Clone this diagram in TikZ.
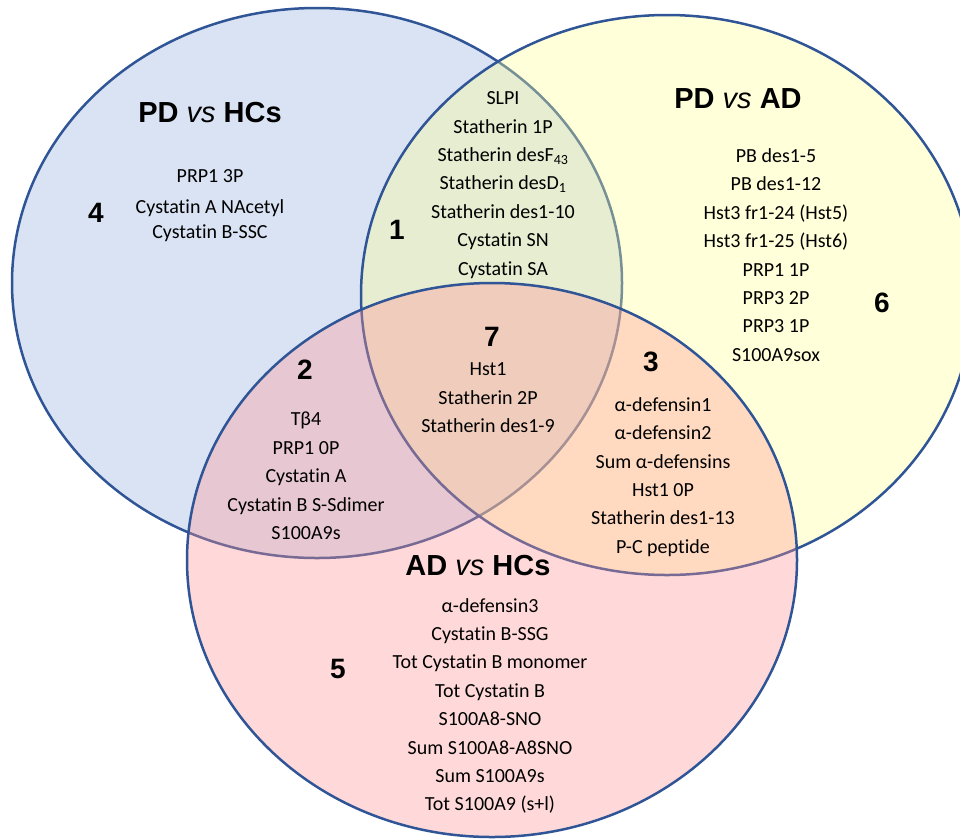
\documentclass[tikz,border=0pt]{standalone}
\usepackage{fontspec}
\setmainfont[Ligatures=NoCommon]{Carlito}
\newfontfamily\headfont{Liberation Sans}
\definecolor{rim}{HTML}{2F5597}
\definecolor{pdhc}{RGB}{149,175,221}
\definecolor{pdad}{RGB}{255,255,146}
\definecolor{adhc}{RGB}{255,146,146}
\tikzset{
  venn/.style={draw=rim, line width=2.5pt, fill opacity=0.35},
  items/.style={align=center, font=\fontsize{20}{28.4}\selectfont},
  head/.style={font=\headfont\bfseries\fontsize{29}{34}\selectfont},
  num/.style={font=\headfont\bfseries\fontsize{28}{34}\selectfont},
}
\begin{document}
\begin{tikzpicture}[x=1pt,y=-1pt]
        \useasboundingbox (0,0) rectangle (960,839);
        \clip (0,0) rectangle (960,839);

        \filldraw[venn, fill=pdhc] (317,283) ellipse (305pt and 275pt);
        \filldraw[venn, fill=pdad] (667,295) ellipse (306pt and 280pt);
        \filldraw[venn, fill=adhc] (492,560) ellipse (305pt and 277pt);

        \node[head] (hPDHC) at (210,113) {PD \textit{\mdseries vs} HCs};
        \node[head] (hPDAD) at (738,99) {PD \textit{\mdseries vs} AD};
        \node[head] (hADHC) at (478,566) {AD \textit{\mdseries vs} HCs};

        \node[num] (n1) at (397,230) {1};
        \node[num] (n2) at (305,370) {2};
        \node[num] (n3) at (651,362) {3};
        \node[num] (n4) at (96,213) {4};
        \node[num] (n5) at (338,669) {5};
        \node[num] (n6) at (882,303) {6};
        \node[num] (n7) at (492,337) {7};

        \node[items, font=\fontsize{20}{25}\selectfont] (l4) at (210,206)
          {PRP1 3P\\[6pt] Cystatin A NAcetyl\\ Cystatin B-SSC};
        \node[items] (l1) at (503,185)
          {SLPI\\ Statherin 1P\\ Statherin desF\textsubscript{43}\\ Statherin desD\textsubscript{1}\\
           Statherin des1-10\\ Cystatin SN\\ Cystatin SA};
        \node[items] (l6) at (776,255)
          {PB des1-5\\ PB des1-12\\ Hst3 fr1-24 (Hst5)\\ Hst3 fr1-25 (Hst6)\\
           PRP1 1P\\ PRP3 2P\\ PRP3 1P\\ S100A9sox};
        \node[items] (l7) at (488,398)
          {Hst1\\ Statherin 2P\\ Statherin des1-9};
        \node[items] (l2) at (306,476)
          {Tβ4\\ PRP1 0P\\ Cystatin A\\ Cystatin B S-Sdimer\\ S100A9s};
        \node[items] (l3) at (663,477)
          {α-defensin1\\ α-defensin2\\ Sum α-defensins\\ Hst1 0P\\
           Statherin des1-13\\ P-C peptide};
        \node[items] (l5) at (490,706)
          {α-defensin3\\ Cystatin B-SSG\\ Tot Cystatin B monomer\\ Tot Cystatin B\\
           S100A8-SNO\\ Sum S100A8-A8SNO\\ Sum S100A9s\\ Tot S100A9 (s+l)};

\end{tikzpicture}
\end{document}
